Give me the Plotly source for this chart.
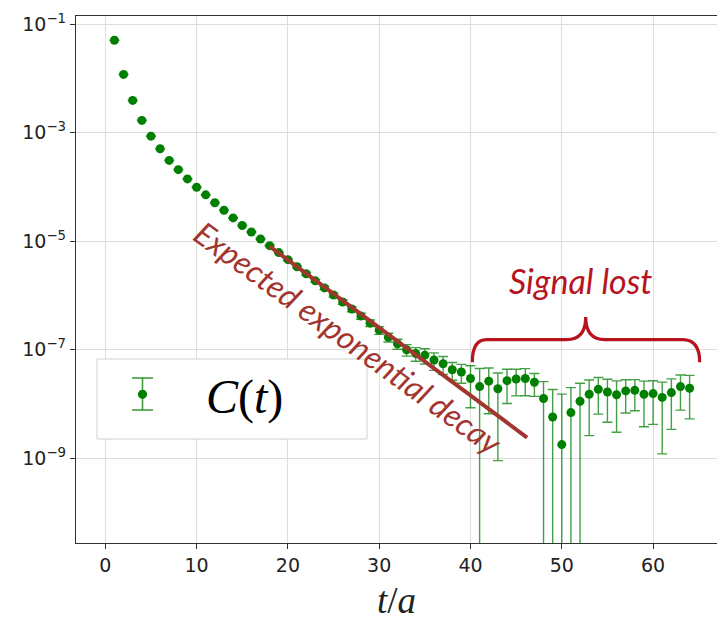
import math
import plotly.graph_objects as go

# ---------------- data ----------------
t_vals = list(range(1, 65))
C_vals = [5.07e-2, 1.19e-2, 3.95e-3, 1.69e-3, 8.67e-4, 5.07e-4, 3.09e-4, 2.09e-4,
          1.41e-4, 9.9e-5, 7.16e-5, 5.13e-5, 3.72e-5, 2.69e-5, 1.95e-5, 1.48e-5,
          1.10e-5, 8.3e-6, 6.17e-6, 4.57e-6, 3.39e-6, 2.51e-6, 1.86e-6, 1.38e-6,
          1.02e-6, 7.59e-7, 5.62e-7, 4.17e-7, 3.09e-7, 2.29e-7, 1.70e-7, 1.29e-7,
          1.00e-7, 8.51e-8, 7.94e-8, 6.46e-8, 5.50e-8, 4.27e-8, 3.89e-8, 2.95e-8,
          2.09e-8, 2.63e-8, 1.91e-8, 2.69e-8, 2.88e-8, 2.95e-8, 2.51e-8, 1.26e-8,
          5.75e-9, 1.78e-9, 6.92e-9, 1.12e-8, 1.51e-8, 1.86e-8, 1.66e-8, 1.48e-8,
          1.74e-8, 1.78e-8, 1.51e-8, 1.55e-8, 1.32e-8, 1.62e-8, 2.09e-8, 1.95e-8]
C_err = [2.5e-4, 6e-5, 2e-5, 8.5e-6, 4.3e-6, 2.5e-6, 1.5e-6, 1.25e-6,
         9.9e-7, 7.9e-7, 6.4e-7, 5.1e-7, 4.5e-7, 3.8e-7, 3.3e-7, 3.0e-7,
         2.6e-7, 2.3e-7, 2.0e-7, 1.8e-7, 1.56e-7, 1.36e-7, 1.17e-7, 1.0e-7,
         8.7e-8, 7.4e-8, 6.2e-8, 5.2e-8, 4.3e-8, 3.7e-8, 3.1e-8, 2.7e-8,
         2.4e-8, 2.4e-8, 2.5e-8, 2.3e-8, 2.0e-8, 1.54e-8, 1.48e-8, 2.1e-8,
         2.4e-8, 1.97e-8, 1.82e-8, 1.67e-8, 1.47e-8, 1.53e-8, 1.13e-8, 1.32e-8,
         1.27e-8, 1.34e-8, 1.31e-8, 1.28e-8, 1.25e-8, 1.21e-8, 1.2e-8, 1.18e-8,
         1.06e-8, 1.03e-8, 1.13e-8, 1.13e-8, 1.2e-8, 1.28e-8, 1.32e-8, 1.42e-8]

# expected exponential decay guide line (end points)
decay_t = [18.0, 46.2]
decay_C = [8.05e-6, 2.4e-9]

x_ticks = [0, 10, 20, 30, 40, 50, 60]
y_ticks = [1e-1, 1e-3, 1e-5, 1e-7, 1e-9]
y_ticklabels = ["10<sup>−1</sup>", "10<sup>−3</sup>", "10<sup>−5</sup>",
                "10<sup>−7</sup>", "10<sup>−9</sup>"]

# "signal lost" brace span (t) and levels (ends, bar, tip)
brace_t = [40.2, 52.62, 65.1]
brace_C = [5.9e-8, 1.53e-7, 4.0e-7]

X_RANGE = [-3.21, 67.0]
Y_RANGE = [-10.564, -0.847]

GREEN = "#008000"
ERR_GREEN = "rgba(20,135,20,0.8)"
DECAY_RED = "#a3352f"
BRACE_RED = "#b8141f"

# plot area: 641 x 527 px
PW, PH = 641.0, 527.0
PLOT_L, PLOT_B = 76.0, 543.0

fig = go.Figure()

fig.add_trace(go.Scatter(
    x=t_vals, y=C_vals, mode="markers", name="C(t)",
    marker=dict(color=GREEN, size=9),
    error_y=dict(type="data", array=C_err, visible=True,
                 color=ERR_GREEN, thickness=1.4, width=5),
    showlegend=False,
))

fig.add_trace(go.Scatter(
    x=decay_t, y=decay_C, mode="lines",
    line=dict(color=DECAY_RED, width=4), showlegend=False,
))


def to_paper(tv, cv):
    px = (tv - X_RANGE[0]) / (X_RANGE[1] - X_RANGE[0])
    py = (math.log10(cv) - Y_RANGE[0]) / (Y_RANGE[1] - Y_RANGE[0])
    return px, py


def f(p):
    return f"{p[0]:.5f},{p[1]:.5f}"


x0, xm, x1 = brace_t
pA = to_paper(x0, brace_C[0])
pB = to_paper(x0, brace_C[1])
pC = to_paper(x0 + 1.55, brace_C[1])
pD = to_paper(xm - 2.1, brace_C[1])
pE = to_paper(xm, brace_C[1])
pF = to_paper(xm, brace_C[2])
pG = to_paper(xm + 2.1, brace_C[1])
pH = to_paper(x1 - 1.85, brace_C[1])
pI = to_paper(x1, brace_C[1])
pJ = to_paper(x1, brace_C[0])
path = (f"M{f(pA)} Q{f(pB)} {f(pC)} L{f(pD)} Q{f(pE)} {f(pF)} "
        f"Q{f(pE)} {f(pG)} L{f(pH)} Q{f(pI)} {f(pJ)}")
fig.add_shape(type="path", path=path, xref="paper", yref="paper",
              line=dict(color=BRACE_RED, width=3.2), layer="above")


def px2paper(xp, yp):
    return (xp - PLOT_L) / PW, (PLOT_B - yp) / PH


# manual legend box
bx0, by0 = px2paper(97, 439)
bx1, by1 = px2paper(367, 359)
fig.add_shape(type="rect", xref="paper", yref="paper",
              x0=bx0, x1=bx1, y0=by0, y1=by1,
              line=dict(color="#d0d0d0", width=1), fillcolor="white", layer="above")
lx, ly = px2paper(142.5, 394.3)
_, ylo = px2paper(0, 410)
_, yhi = px2paper(0, 378)
fig.add_shape(type="line", xref="paper", yref="paper",
              x0=lx, x1=lx, y0=ylo, y1=yhi,
              line=dict(color=ERR_GREEN, width=1.6), layer="above")
for yy in (ylo, yhi):
    fig.add_shape(type="line", xref="paper", yref="paper",
                  x0=lx - 10.5 / PW, x1=lx + 10.5 / PW, y0=yy, y1=yy,
                  line=dict(color=ERR_GREEN, width=1.6), layer="above")
fig.add_shape(type="circle", xref="paper", yref="paper",
              x0=lx - 4.6 / PW, x1=lx + 4.6 / PW,
              y0=ly - 4.6 / PH, y1=ly + 4.6 / PH,
              line=dict(color=GREEN, width=0), fillcolor=GREEN, layer="above")
tx, ty = px2paper(244, 397)
fig.add_annotation(text="<i>C</i>(<i>t</i>)", xref="paper", yref="paper",
                   x=tx, y=ty, showarrow=False, xanchor="center", yanchor="middle",
                   font=dict(family="Liberation Serif", size=48, color="black"))

# handwritten-style notes
fig.add_annotation(text="Expected exponential decay", x=26.6, y=-6.78,
                   xref="x", yref="y", showarrow=False, textangle=36,
                   xanchor="center", yanchor="middle",
                   font=dict(family="Lato", size=32, color=DECAY_RED, style="italic"))
fig.add_annotation(text="Signal lost", x=52.1, y=-5.72,
                   xref="x", yref="y", showarrow=False,
                   xanchor="center", yanchor="middle",
                   font=dict(family="Lato", size=34, color=BRACE_RED, style="italic"))

fig.update_layout(
    width=717, height=621,
    margin=dict(l=76, r=0, t=16, b=78),
    plot_bgcolor="white", paper_bgcolor="white",
    font=dict(family="DejaVu Sans", size=19, color="#222"),
)
fig.update_xaxes(
    range=X_RANGE, tickvals=x_ticks, ticks="outside", ticklen=5, tickwidth=1.2,
    tickcolor="#333", showline=True, linecolor="#333", linewidth=1.3, mirror=True,
    showgrid=True, gridcolor="#dddddd", gridwidth=1, zeroline=False,
    title=dict(text="<i>t</i>/<i>a</i>", standoff=14,
               font=dict(family="Liberation Serif", size=37, color="#222")),
)
fig.update_yaxes(
    type="log", range=Y_RANGE, tickvals=y_ticks, ticktext=y_ticklabels,
    ticks="outside", ticklen=5, tickwidth=1.2, tickcolor="#333",
    showline=True, linecolor="#333", linewidth=1.3, mirror=False,
    showgrid=True, gridcolor="#dddddd", gridwidth=1, zeroline=False,
)

fig.write_html(
    "out.html",
    config={"displayModeBar": False},
    post_script="document.body.style.margin='0';document.body.style.overflow='hidden';",
)
